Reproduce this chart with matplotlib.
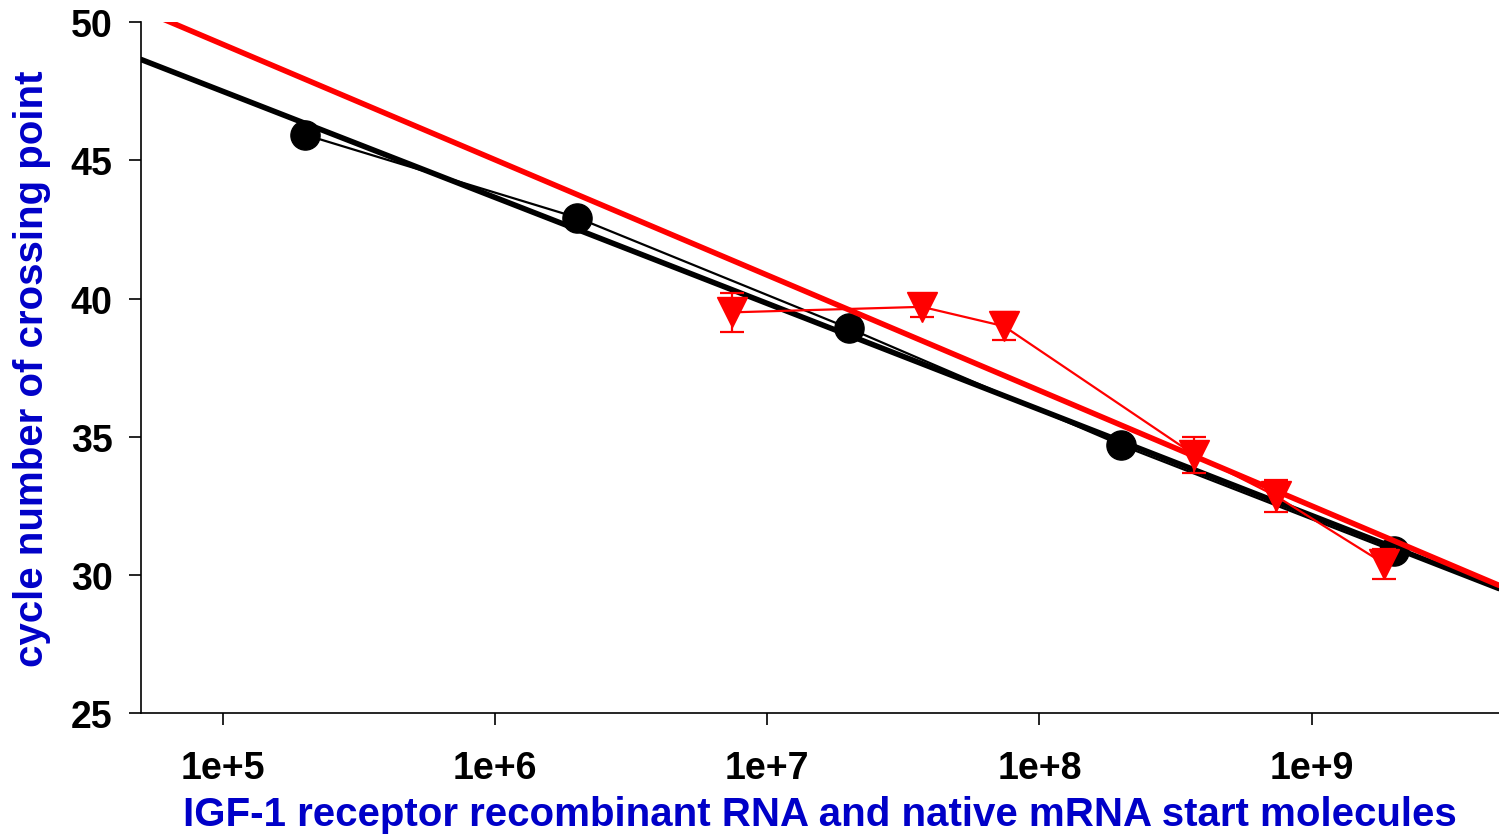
import numpy as np
import matplotlib.pyplot as plt
from matplotlib.ticker import FixedLocator, NullLocator

plt.rcParams['font.family'] = ['Liberation Sans', 'DejaVu Sans']
plt.rcParams['font.weight'] = 'bold'

# recombinant RNA standard (black circles)
std_x = [2e5, 2e6, 2e7, 2e8, 2e9]
std_y = [45.93, 42.93, 38.92, 34.69, 30.86]

# native mRNA (red triangles) with error bars
nat_x = [7.4e6, 3.7e7, 7.4e7, 3.7e8, 7.4e8, 1.85e9]
nat_y = [39.5, 39.7, 39.0, 34.35, 32.85, 30.4]
nat_err = [0.7, 0.35, 0.5, 0.65, 0.58, 0.54]

x_ticks = [1e5, 1e6, 1e7, 1e8, 1e9]
x_labels = ['1e+5', '1e+6', '1e+7', '1e+8', '1e+9']
y_ticks = [25, 30, 35, 40, 45, 50]
x_range = [5e4, 4.88e9]

blue = '#0000C8'

fig = plt.figure(figsize=(14.99, 8.37), dpi=100)
ax = fig.add_axes([0.0941, 0.147, 0.9059, 0.8252])

# linear regression of Cp on log10(start molecules)
xx = np.log10(np.array(x_range))
k1, b1 = np.polyfit(np.log10(std_x), std_y, 1)
k2, b2 = np.polyfit(np.log10(nat_x), nat_y, 1)

ax.plot(std_x, std_y, color='black', lw=1.6, marker='o', ms=21, zorder=3)
ax.plot(x_range, k1 * xx + b1, color='black', lw=4, solid_capstyle='round', zorder=3)

ax.errorbar(nat_x, nat_y, yerr=nat_err, color='red', lw=1.6, marker='v', ms=22,
            elinewidth=1.6, capsize=8.5, capthick=1.6, zorder=4)
ax.plot(x_range, k2 * xx + b2, color='red', lw=4, solid_capstyle='round', zorder=5)

ax.set_xscale('log')
ax.set_xlim(x_range)
ax.set_ylim(25, 50)
ax.xaxis.set_major_locator(FixedLocator(x_ticks))
ax.xaxis.set_minor_locator(NullLocator())
ax.set_xticks(x_ticks)
ax.set_xticklabels(x_labels)
ax.set_yticks(y_ticks)

for s in ['top', 'right']:
    ax.spines[s].set_visible(False)
for s in ['left', 'bottom']:
    ax.spines[s].set_linewidth(1.2)

ax.tick_params(axis='both', direction='out', length=8.5, width=1.2, labelsize=27)
ax.tick_params(axis='x', pad=18)
ax.tick_params(axis='y', pad=12)

ax.set_xlabel('IGF-1 receptor recombinant RNA and native mRNA start molecules',
              color=blue, fontsize=29, fontweight='bold', labelpad=7)
ax.set_ylabel('cycle number of crossing point', color=blue, fontsize=29,
              fontweight='bold', labelpad=14)

fig.savefig('out.png', dpi=100)
